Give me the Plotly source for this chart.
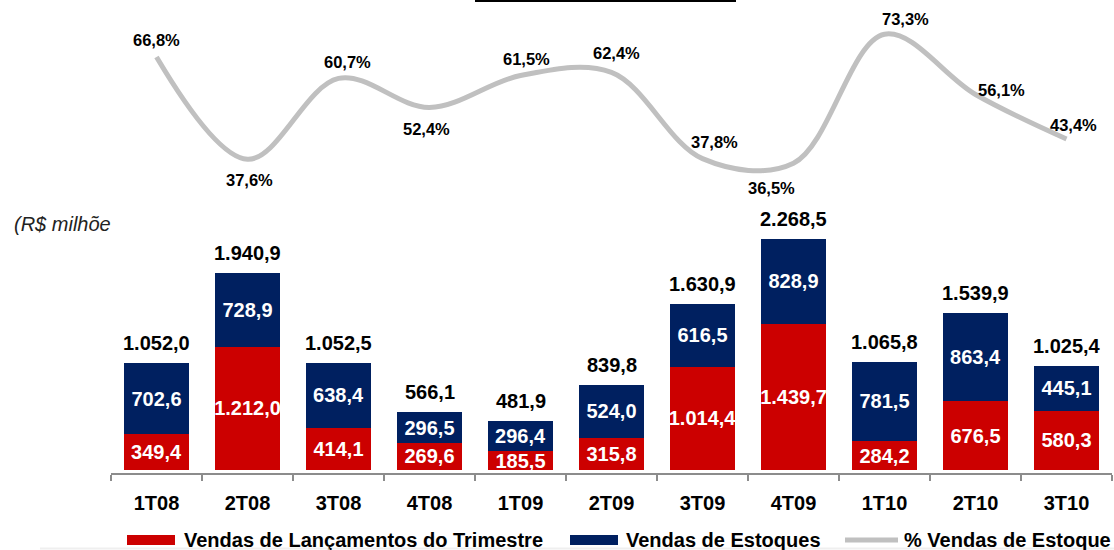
import plotly.graph_objects as go

categories = ["1T08", "2T08", "3T08", "4T08", "1T09", "2T09", "3T09", "4T09", "1T10", "2T10", "3T10"]
lancamentos = [349.4, 1212.0, 414.1, 269.6, 185.5, 315.8, 1014.4, 1439.7, 284.2, 676.5, 580.3]
estoques = [702.6, 728.9, 638.4, 296.5, 296.4, 524.0, 616.5, 828.9, 781.5, 863.4, 445.1]
totais = [1052.0, 1940.9, 1052.5, 566.1, 481.9, 839.8, 1630.9, 2268.5, 1065.8, 1539.9, 1025.4]
pct_estoque = [66.8, 37.6, 60.7, 52.4, 61.5, 62.4, 37.8, 36.5, 73.3, 56.1, 43.4]

W, H = 1114, 550
L, R = 111, 1112       # plot area x pixels
T, B = 0, 473          # plot area y pixels

RED = "#CC0000"
NAVY = "#002060"
GREY = "#C0C0C0"
FONT = "Arial, Liberation Sans, sans-serif"


def br(v, dec=1):
    s = f"{v:,.{dec}f}"
    return s.replace(",", "X").replace(".", ",").replace("X", ".")


fig = go.Figure()

fig.add_trace(go.Bar(
    x=categories, y=lancamentos, name="Vendas de Lançamentos do Trimestre",
    marker=dict(color=RED, line=dict(width=0)),
    text=[br(v) for v in lancamentos], textposition="inside", textangle=0,
    insidetextanchor="middle", constraintext="none",
    textfont=dict(family=FONT, size=20, color="white", weight="bold"),
    width=0.705, showlegend=False, hoverinfo="skip",
))
fig.add_trace(go.Bar(
    x=categories, y=estoques, name="Vendas de Estoques",
    marker=dict(color=NAVY, line=dict(width=0)),
    text=[br(v) for v in estoques], textposition="inside", textangle=0,
    insidetextanchor="middle", constraintext="none",
    textfont=dict(family=FONT, size=20, color="white", weight="bold"),
    width=0.705, showlegend=False, hoverinfo="skip",
))
fig.add_trace(go.Scatter(
    x=categories, y=pct_estoque, yaxis="y2", mode="lines",
    name="% Vendas de Estoque",
    line=dict(color=GREY, width=5, shape="spline", smoothing=1.0),
    showlegend=False, hoverinfo="skip",
))

annotations = []
# totals above bars
for c, t in zip(categories, totais):
    annotations.append(dict(
        x=c, y=t, xref="x", yref="y", text=br(t), showarrow=False,
        yanchor="middle", yshift=20,
        font=dict(family=FONT, size=20, color="black", weight="bold"),
    ))

# percent labels (offsets in pixels)
pct_offsets = [(0, 17), (2, -21), (9, 16), (-3, -22), (6, 17), (5, 19),
               (12, 17), (-22, -25), (21, 15), (26, 4), (7, 14)]
for c, p, (dx, dy) in zip(categories, pct_estoque, pct_offsets):
    annotations.append(dict(
        x=c, y=p, xref="x", yref="y2", text=br(p) + "%", showarrow=False,
        xshift=dx, yshift=dy, yanchor="middle",
        font=dict(family=FONT, size=16.5, color="black", weight="bold"),
    ))


def px_x(px):
    return (px - L) / (R - L)


def px_y(py):
    return (B - py) / (B - T)


annotations.append(dict(
    x=px_x(12), y=px_y(224), xref="paper", yref="paper", xanchor="left",
    yanchor="middle", text="(R$ milhõe", showarrow=False,
    font=dict(family=FONT, size=20, color="#222222", style="italic"),
))

# legend texts
legend_items = [(182, "Vendas de Lançamentos do Trimestre"),
                (624, "Vendas de Estoques"),
                (902, "% Vendas de Estoque")]
for xpx, txt in legend_items:
    annotations.append(dict(
        x=px_x(xpx), y=px_y(540), xref="paper", yref="paper", xanchor="left",
        yanchor="middle", text=txt, showarrow=False,
        font=dict(family=FONT, size=20, color="black", weight="bold"),
    ))

shapes = [
    dict(type="rect", xref="paper", yref="paper", x0=px_x(127), x1=px_x(175),
         y0=px_y(545), y1=px_y(535), fillcolor=RED, line=dict(width=0)),
    dict(type="rect", xref="paper", yref="paper", x0=px_x(570), x1=px_x(618),
         y0=px_y(545), y1=px_y(535), fillcolor=NAVY, line=dict(width=0)),
    dict(type="line", xref="paper", yref="paper", x0=px_x(845), x1=px_x(898),
         y0=px_y(540), y1=px_y(540), line=dict(color=GREY, width=5)),
    dict(type="rect", xref="paper", yref="paper", x0=px_x(475), x1=px_x(736),
         y0=px_y(2), y1=px_y(0), fillcolor="black", line=dict(width=0)),
    dict(type="line", xref="paper", yref="paper", x0=px_x(40), x1=px_x(1114),
         y0=px_y(548.5), y1=px_y(548.5), line=dict(color="#EFEFEF", width=2)),
]

bar_scale = 0.1017  # px per unit
y_min = -(B - 470) / bar_scale
y_max = (470 - T) / bar_scale

p_scale = 3.504
y2_max = 66.8 + (57 - T) / p_scale
y2_min = 66.8 - (B - 57) / p_scale

fig.update_layout(
    width=W, height=H,
    margin=dict(l=L, r=W - R, t=T, b=H - B, pad=0),
    paper_bgcolor="white", plot_bgcolor="white",
    barmode="stack", bargap=0.295,
    xaxis=dict(
        type="category", range=[-0.5, len(categories) - 0.5],
        showline=True, linecolor="#8C8C8C", linewidth=1.5,
        ticks="outside", tickson="boundaries", ticklen=6, tickcolor="#8C8C8C",
        tickwidth=1.5, showgrid=False, zeroline=False,
        tickfont=dict(family=FONT, size=20, color="black", weight="bold"),
        ticklabelstandoff=11,
    ),
    yaxis=dict(range=[y_min, y_max], visible=False, showgrid=False, zeroline=False),
    yaxis2=dict(range=[y2_min, y2_max], overlaying="y", visible=False,
                showgrid=False, zeroline=False),
    annotations=annotations, shapes=shapes,
    showlegend=False,
)

fig.write_html(
    "out.html",
    config={"displayModeBar": False, "staticPlot": True},
    post_script="document.body.style.margin='0px';document.body.style.overflow='hidden';",
)
